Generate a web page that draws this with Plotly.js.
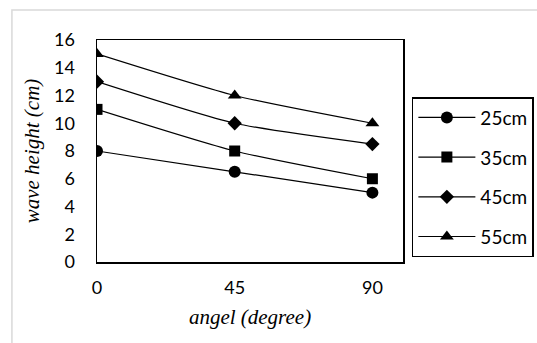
<!DOCTYPE html>
<html><head><meta charset="utf-8">
<script src="https://cdn.plot.ly/plotly-3.0.1.min.js"></script>
<style>html,body{margin:0;padding:0;background:#fff}#c{width:537px;height:343px}</style>
</head><body><div id="c"></div>
<script>
var angles = [0, 45, 90];
var s25 = [8, 6.5, 5];
var s35 = [11, 8, 6];
var s45 = [13, 10, 8.5];
var s55 = [15, 12, 10];
var names = ['25cm', '35cm', '45cm', '55cm'];
var xTicks = [0, 45, 90];
var yTicks = [0, 2, 4, 6, 8, 10, 12, 14, 16];

var series = [s25, s35, s45, s55];
var symbols = ['circle', 'square', 'diamond', 'triangle-up'];
var sizes = [12, 11, 11, 12];
var traces = series.map(function (ys, i) {
  return {
    x: angles, y: ys, name: names[i], type: 'scatter', mode: 'lines+markers',
    legendgroup: 'g' + i,
    line: {color: '#000', width: 1.2, shape: 'spline', smoothing: 0.6},
    marker: {symbol: symbols[i], size: sizes[i], color: '#000'}
  };
});

var layout = {
  width: 537, height: 343,
  margin: {l: 97, r: 134, t: 40, b: 81, autoexpand: false},
  paper_bgcolor: '#fff', plot_bgcolor: '#fff',
  font: {family: 'Lato, sans-serif', size: 18, color: '#000'},
  showlegend: true,
  legend: {
    x: 1.029, y: 0.743, xanchor: 'left', yanchor: 'top',
    bordercolor: '#000', borderwidth: 1.5, bgcolor: '#fff',
    tracegroupgap: 12, itemwidth: 57, font: {size: 19}
  },
  xaxis: {
    range: [0, 100], tickvals: xTicks, ticktext: xTicks.map(String),
    showgrid: false, zeroline: false, showline: true, mirror: true,
    linecolor: '#000', linewidth: 1.5, ticks: '', ticklabelstandoff: 9,
    title: {text: 'angel (degree)', standoff: 12,
      font: {family: 'Liberation Serif, serif', size: 21, style: 'italic'}}
  },
  yaxis: {
    range: [0, 16], tickvals: yTicks, ticktext: yTicks.map(String),
    showgrid: false, zeroline: false, showline: true, mirror: true,
    linecolor: '#000', linewidth: 1.5, ticks: '', ticklabelstandoff: 17,
    title: {text: 'wave height (cm)', standoff: 8,
      font: {family: 'Liberation Serif, serif', size: 21, style: 'italic'}}
  },
  shapes: [{
    type: 'rect', xref: 'paper', yref: 'paper',
    x0: -0.278, x1: 1.5, y0: -0.5, y1: 1.135,
    line: {color: '#d9d9d9', width: 1.5}, fillcolor: 'rgba(0,0,0,0)', layer: 'below'
  }]
};
Plotly.newPlot('c', traces, layout, {staticPlot: true});
</script></body></html>
